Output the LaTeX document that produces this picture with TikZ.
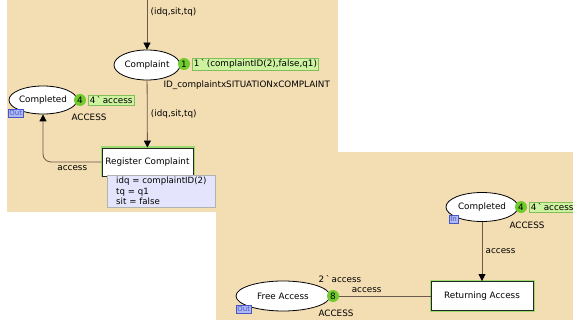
\documentclass[tikz,border=0pt]{standalone}
\usepackage{fontspec}
\setmainfont{DejaVu Sans}
\usetikzlibrary{positioning,shapes.geometric,arrows.meta}
\definecolor{cpnbg}{RGB}{243,221,179}
\definecolor{arcc}{RGB}{105,90,75}
\definecolor{tokc}{RGB}{112,204,44}
\definecolor{markfill}{RGB}{205,242,160}
\definecolor{markdraw}{RGB}{130,190,90}
\definecolor{portfill}{RGB}{175,185,245}
\definecolor{portdraw}{RGB}{70,85,200}
\definecolor{guardfill}{RGB}{228,228,252}
\newcommand{\mult}{\,\textasciigrave\,}

\begin{document}
\begin{tikzpicture}[x=1pt, y=-1pt, font=\fontsize{8.8}{10}\selectfont,
  place/.style = {ellipse, draw, thick, fill=white, inner sep=0pt},
  trans/.style = {rectangle, draw=black!85, line width=0.9pt, fill=white,
                  preaction={draw=tokc!70, line width=3pt}},
  token/.style = {circle, fill=tokc, inner sep=0pt, minimum size=12pt},
  marking/.style = {fill=markfill, draw=markdraw, inner sep=1.5pt},
  port/.style = {fill=portfill, draw=portdraw, text=portdraw, inner xsep=1.2pt,
                 inner ysep=0pt, minimum height=8pt, font=\fontsize{7}{7}\selectfont},
  arc/.style = {draw=arcc, thick, -{Triangle[length=7pt,width=7pt,color=black]}}]
\useasboundingbox (0,0) rectangle (573,320);
\fill[cpnbg] (7,0) rectangle (338,212);
\fill[cpnbg] (216,152) rectangle (573,320);

% registering a complaint
\coordinate (src) at (147,0);
\node[place, minimum width=66pt, minimum height=30pt] (complaint) at (147,65) {Complaint};
\node[token] (tok1) at (184,64) {1};
\node[marking, right=2pt of tok1] (mark1) {1\mult(complaintID(2),false,q1)};
\node[anchor=west] (type1) at (160,85) {ID\_complaintxSITUATIONxCOMPLAINT};

\node[place, minimum width=68pt, minimum height=28pt] (done) at (43,100) {Completed};
\node[token] (tok4) at (80,100) {4};
\node[marking, right=2pt of tok4] (mark4) {4\mult access};
\node[port, anchor=north west] (out1) at (8,109) {Out};
\node (type4) at (89,117) {ACCESS};

\node[trans, minimum width=91pt, minimum height=28pt] (reg) at (147.5,162) {Register Complaint};
\node[fill=guardfill, draw=black!30, align=left, anchor=north west,
      minimum width=108pt, inner sep=2pt, text width=100pt,
      font=\fontsize{8.6}{10.5}\selectfont] (guard) at (107,175)
      {\hspace*{5pt}idq = complaintID(2)\\\hspace*{5pt}tq = q1\\\hspace*{5pt}sit = false};

\draw[arc] (src) -- (complaint) node[pos=0.24, right] {(idq,sit,tq)};
\draw[arc] (complaint) -- (reg) node[midway, right] {(idq,sit,tq)};
\draw[arc, rounded corners=8pt] (reg.west) -| (done.south)
  node[pos=0.25, below] {access};

% returning access
\node[place, minimum width=72pt, minimum height=29pt] (done2) at (482,207) {Completed};
\node[token] (tok42) at (521,207) {4};
\node[marking, right=2pt of tok42] (mark42) {4\mult access};
\node[port, anchor=north west] (in2) at (449,215) {In};
\node (type42) at (527,225) {ACCESS};

\node[trans, minimum width=102pt, minimum height=29pt] (ret) at (482,296) {Returning Access};

\node[place, minimum width=94pt, minimum height=30pt] (free) at (283,296) {Free Access};
\node[token] (tok8) at (333,296) {8};
\node (mark8) at (340,279) {2\mult access};
\node[port, anchor=north west] (out2) at (236,305) {Out};
\node (type8) at (336,313) {ACCESS};

\draw[arc] (done2) -- (ret) node[midway, right] {access};
\draw[draw=arcc, thick] (tok8) -- (ret) node[pos=0.3, above] {access};
\end{tikzpicture}
\end{document}
